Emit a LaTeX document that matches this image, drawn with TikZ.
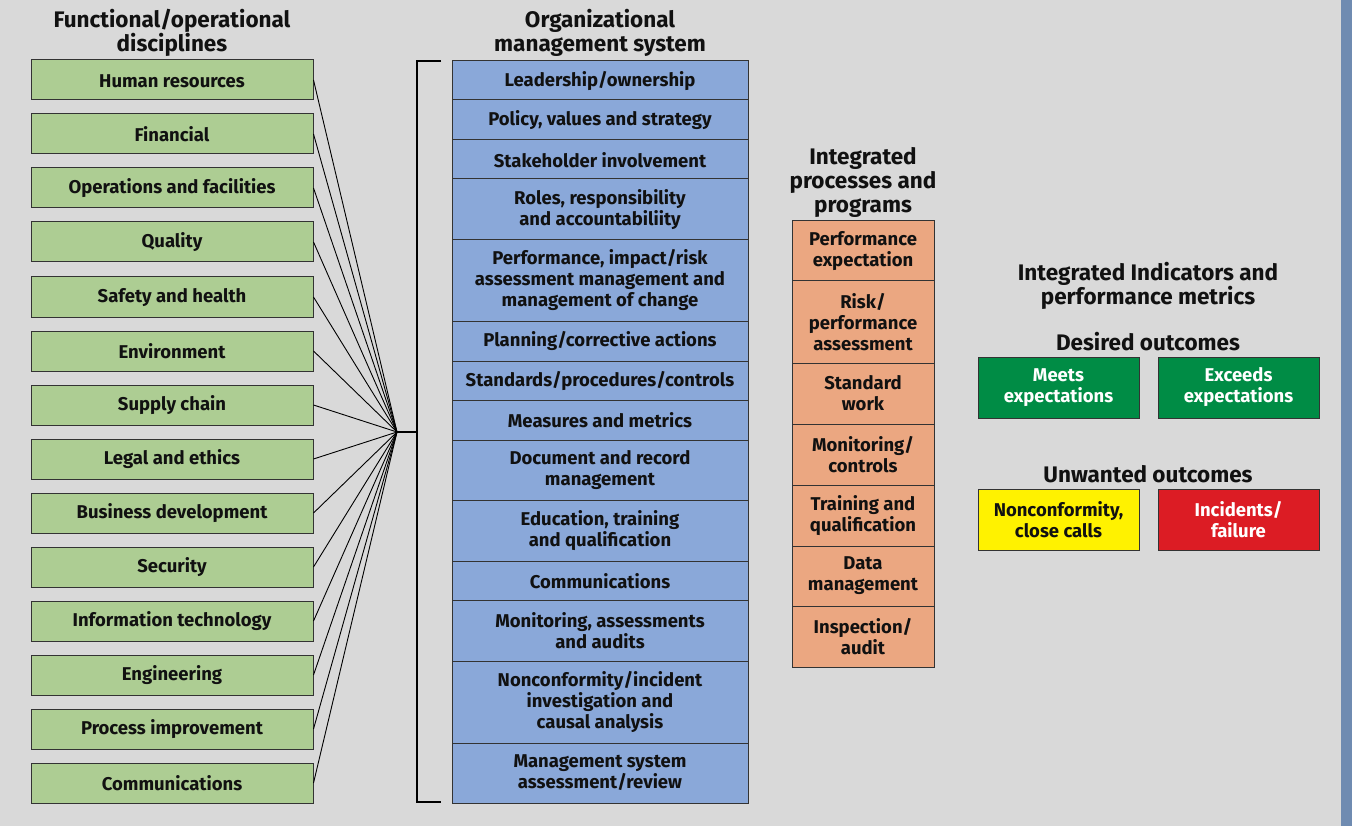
\documentclass[tikz,border=0pt]{standalone}
\usepackage{fontspec}
\setmainfont{Fira Sans}[BoldFont={Fira Sans Bold}]
\definecolor{bg}{HTML}{D9D9D9}
\definecolor{sidebar}{HTML}{6F8BB1}
\definecolor{discgreen}{HTML}{ADCD93}
\definecolor{msblue}{HTML}{8AA8D9}
\definecolor{procorange}{HTML}{EBA781}
\definecolor{goodgreen}{HTML}{008C45}
\definecolor{warnyellow}{HTML}{FFF200}
\definecolor{badred}{HTML}{DC1C24}
\definecolor{edge}{HTML}{333333}
\definecolor{ink}{HTML}{111111}
\tikzset{
  box/.style={draw=edge, line width=1pt, inner sep=0pt, align=center,
    text=ink, font=\bfseries\fontsize{18.5}{21}\selectfont,
    execute at begin node={\rule{0pt}{16pt}}},
  disc/.style={box, fill=discgreen, minimum width=282pt, minimum height=40pt},
  mgmt/.style={box, fill=msblue, minimum width=296pt},
  proc/.style={box, fill=procorange, minimum width=142pt},
  outcome/.style={box, minimum width=161pt, minimum height=61pt},
  heading/.style={inner sep=0pt, align=center, text=ink,
    font=\bfseries\fontsize{22.5}{24}\selectfont},
  subheading/.style={heading},
  fan/.style={line width=0.9pt, black},
  brace/.style={line width=2.4pt, black},
}
\begin{document}
\begin{tikzpicture}[x=1pt, y=-1pt]
% canvas
\fill[white] (0,0) rectangle (1354,826);
\fill[bg] (0,0) rectangle (1341,826);
\fill[sidebar] (1341,0) rectangle (1352,826);
\useasboundingbox (0,0) rectangle (1354,826);

% column headings
\node[heading] (h1) at (172,33) {Functional/operational\\disciplines};
\node[heading] (h2) at (600,33) {Organizational\\management system};
\node[heading] (h3) at (863,182) {Integrated\\processes and\\programs};
\node[heading] (h4) at (1148,286) {Integrated Indicators and\\performance metrics};
\node[subheading] (h5) at (1148,342) {Desired outcomes};
\node[subheading] (h6) at (1148,474) {Unwanted outcomes};

% functional / operational disciplines
\node[disc] (d1)  at (172,80)  {Human resources};
\node[disc] (d2)  at (172,134) {Financial};
\node[disc] (d3)  at (172,188) {Operations and facilities};
\node[disc] (d4)  at (172,242) {Quality};
\node[disc] (d5)  at (172,297) {Safety and health};
\node[disc] (d6)  at (172,351) {Environment};
\node[disc] (d7)  at (172,405) {Supply chain};
\node[disc] (d8)  at (172,459) {Legal and ethics};
\node[disc] (d9)  at (172,513) {Business development};
\node[disc] (d10) at (172,567) {Security};
\node[disc] (d11) at (172,621) {Information technology};
\node[disc] (d12) at (172,675) {Engineering};
\node[disc] (d13) at (172,729) {Process improvement};
\node[disc] (d14) at (172,783) {Communications};

% fan-in to the bracket
\coordinate (hub) at (397,432);
\coordinate (spine) at (417,432);
\coordinate (btop) at (417,61);
\coordinate (bbot) at (417,802);
\coordinate (btopend) at (441,61);
\coordinate (bbotend) at (441,802);
\foreach \i in {1,...,14} \draw[fan] (d\i.east) -- (hub);
\draw[brace] (hub) -- (spine);
\draw[brace, line cap=butt] (btopend) -- (btop) -- (bbot) -- (bbotend);

% organizational management system
\node[mgmt, minimum height=39pt] (m1)  at (600,80.5)  {Leadership/ownership};
\node[mgmt, minimum height=40pt] (m2)  at (600,120)   {Policy, values and strategy};
\node[mgmt, minimum height=39pt] (m3)  at (600,159.5) {Stakeholder involvement};
\node[mgmt, minimum height=61pt] (m4)  at (600,209.5) {Roles, responsibility\\and accountabiliity};
\node[mgmt, minimum height=81pt] (m5)  at (600,280.5) {Performance, impact/risk\\assessment management and\\management of change};
\node[mgmt, minimum height=40pt] (m6)  at (600,341)   {Planning/corrective actions};
\node[mgmt, minimum height=39pt] (m7)  at (600,380.5) {Standards/procedures/controls};
\node[mgmt, minimum height=40pt] (m8)  at (600,420)   {Measures and metrics};
\node[mgmt, minimum height=60pt] (m9)  at (600,470)   {Document and record\\management};
\node[mgmt, minimum height=61pt] (m10) at (600,530.5) {Education, training\\and qualification};
\node[mgmt, minimum height=39pt] (m11) at (600,580.5) {Communications};
\node[mgmt, minimum height=61pt] (m12) at (600,630.5) {Monitoring, assessments\\and audits};
\node[mgmt, minimum height=82pt] (m13) at (600,702)   {Nonconformity/incident\\investigation and\\causal analysis};
\node[mgmt, minimum height=60pt] (m14) at (600,773)   {Management system\\assessment/review};

% integrated processes and programs
\node[proc, minimum height=60pt] (p1) at (863,251)   {Performance\\expectation};
\node[proc, minimum height=82pt] (p2) at (863,322)   {Risk/\\performance\\assessment};
\node[proc, minimum height=61pt] (p3) at (863,393.5) {Standard\\work};
\node[proc, minimum height=61pt] (p4) at (863,454.5) {Monitoring/\\controls};
\node[proc, minimum height=61pt] (p5) at (863,515.5) {Training and\\qualification};
\node[proc, minimum height=60pt] (p6) at (863,576)   {Data\\management};
\node[proc, minimum height=61pt] (p7) at (863,636.5) {Inspection/\\audit};

% outcomes
\node[outcome, fill=goodgreen, text=white] (o1) at (1058.5,387.5) {Meets\\expectations};
\node[outcome, fill=goodgreen, text=white] (o2) at (1238.5,387.5) {Exceeds\\expectations};
\node[outcome, fill=warnyellow] (o3) at (1058.5,519.5) {Nonconformity,\\close calls};
\node[outcome, fill=badred, text=white] (o4) at (1238.5,519.5) {Incidents/\\failure};
\end{tikzpicture}
\end{document}
